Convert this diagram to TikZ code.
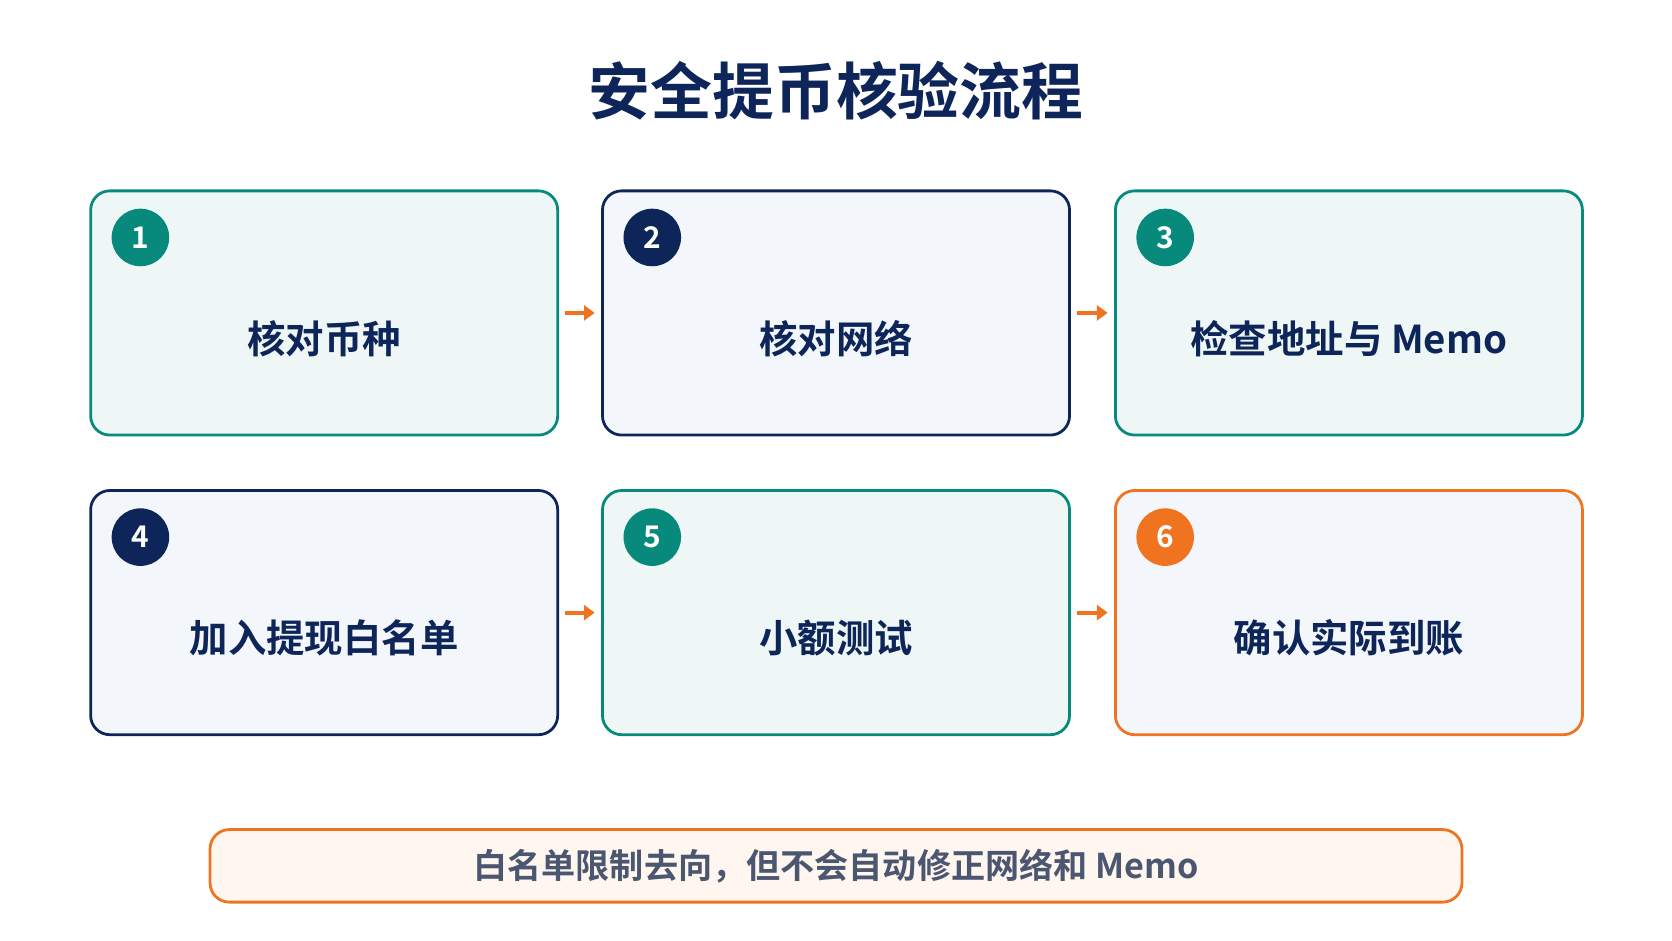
\documentclass[tikz,border=0pt]{standalone}
\usepackage{fontspec}
\setmainfont{Noto Sans CJK SC}[BoldFont={* Bold}]
\usetikzlibrary{arrows.meta}
\definecolor{teal}{HTML}{078A7C}
\definecolor{navy}{HTML}{0D2559}
\definecolor{org}{HTML}{F07320}
\definecolor{tealf}{HTML}{EEF7F5}
\definecolor{navyf}{HTML}{F3F7FC}
\definecolor{orgf}{HTML}{FFF6EF}
\definecolor{gtxt}{HTML}{4B5670}
\begin{document}
\begin{tikzpicture}[x=0.5pt,y=-0.5pt,
 box/.style={draw=#1,line width=1.3pt,rounded corners=9pt,minimum width=219pt,minimum height=114.5pt,inner sep=0pt},
 num/.style={circle,fill=#1,minimum size=27pt,inner sep=0pt,text=white,font=\bfseries\fontsize{14}{14}\selectfont},
 lab/.style={text=navy,font=\bfseries\fontsize{18}{18}\selectfont},
 arr/.style={draw=org,line width=1.8pt,-{Triangle[length=5pt,width=7pt]}}]
\useasboundingbox (0,0) rectangle (1568,882);
\fill[white] (0,0) rectangle (1568,882);
\node[text=navy,font=\bfseries\fontsize{29}{29}\selectfont] (t) at (784,85) {安全提币核验流程};
\foreach \i/\x/\y/\c/\f/\s in {1/304/293.5/teal/tealf/核对币种, 2/784/293.5/navy/navyf/核对网络, 3/1265/293.5/teal/tealf/检查地址与 Memo, 4/304/574.5/navy/navyf/加入提现白名单, 5/784/574.5/teal/tealf/小额测试, 6/1265/574.5/org/navyf/确认实际到账}{
 \node[box=\c,fill=\f] (b\i) at (\x,\y) {};
 \node[num=\c] (n\i) at ([xshift=24pt,yshift=-22.5pt]b\i.north west) {\i};
 \node[lab] (l\i) at ([yshift=-12pt]b\i.center) {\s};
}
\coordinate (a1) at ([xshift=3pt]b1.east); \coordinate (a2) at ([xshift=3pt]b2.east);
\coordinate (a4) at ([xshift=3pt]b4.east); \coordinate (a5) at ([xshift=3pt]b5.east);
\draw[arr] (a1) -- ([xshift=-3pt]b2.west);
\draw[arr] (a2) -- ([xshift=-3pt]b3.west);
\draw[arr] (a4) -- ([xshift=-3pt]b5.west);
\draw[arr] (a5) -- ([xshift=-3pt]b6.west);
\node[draw=org,fill=orgf,line width=1.3pt,rounded corners=9pt,minimum width=587pt,minimum height=34pt,text=gtxt,font=\bfseries\fontsize{16}{16}\selectfont] (note) at (784,812) {白名单限制去向，但不会自动修正网络和 Memo};
\end{tikzpicture}
\end{document}
